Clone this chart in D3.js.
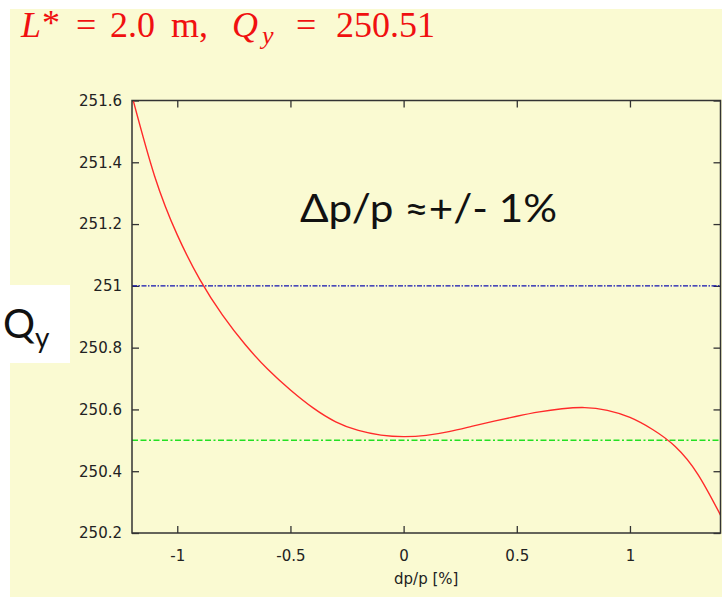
<!DOCTYPE html>
<html>
<head>
<meta charset="utf-8">
<script src="https://cdn.jsdelivr.net/npm/d3@7"></script>
<style>
  body { margin: 0; background: #fff; }
  svg { display: block; }
</style>
</head>
<body>
<div id="chart"></div>
<script>
// values
var dpp = [-1.2, -1.1, -1.0, -0.9, -0.8, -0.7, -0.6, -0.5, -0.4, -0.3, -0.2, -0.1, 0,
  0.1, 0.2, 0.3, 0.4, 0.5, 0.6, 0.7, 0.8, 0.9, 1.0, 1.1, 1.2, 1.3, 1.4];
var qy = [251.615, 251.355, 251.165, 251.02, 250.905, 250.81, 250.73, 250.663, 250.605, 250.56, 250.532, 250.517, 250.512,
  250.516, 250.528, 250.545, 250.562, 250.578, 250.592, 250.602, 250.606, 250.597, 250.574, 250.535, 250.48, 250.39, 250.258];
var xTicks = [-1, -0.5, 0, 0.5, 1];
var yTicks = [250.2, 250.4, 250.6, 250.8, 251, 251.2, 251.4, 251.6];
var qyLimit = 251.0;
var qyNominal = 250.5;

var W = 722, H = 597;
var pLeft = 132, pRight = 720.5, pTop = 100.5, pBottom = 533;

var svg = d3.select("#chart").append("svg")
  .attr("width", W)
  .attr("height", H);

svg.append("rect")
  .attr("x", 10).attr("y", 9)
  .attr("width", W - 10).attr("height", H - 9)
  .attr("fill", "#fafad2");

var x = d3.scaleLinear().domain([-1.2, 1.4]).range([pLeft, pRight]);
var y = d3.scaleLinear().domain([250.2, 251.6]).range([pBottom, pTop]);

var fmt = function (d) { return String(+d.toFixed(1)); };

// axes, ticks inward on all four sides
var axisStyle = function (g) {
  g.select(".domain").remove();
  g.selectAll(".tick line").attr("stroke", "#333").attr("stroke-width", 1.3);
  g.selectAll(".tick text")
    .attr("fill", "#222")
    .style("font-family", "DejaVu Sans")
    .style("font-size", "15px");
};

svg.append("g")
  .attr("transform", "translate(0," + pBottom + ")")
  .call(d3.axisBottom(x).tickValues(xTicks).tickFormat(fmt).tickSizeInner(-7).tickSizeOuter(0).tickPadding(17))
  .call(axisStyle);

svg.append("g")
  .attr("transform", "translate(0," + pTop + ")")
  .call(d3.axisTop(x).tickValues(xTicks).tickFormat("").tickSizeInner(-7).tickSizeOuter(0))
  .call(axisStyle);

svg.append("g")
  .attr("transform", "translate(" + pLeft + ",0)")
  .call(d3.axisLeft(y).tickValues(yTicks).tickFormat(fmt).tickSizeInner(-7).tickSizeOuter(0).tickPadding(10))
  .call(axisStyle);

svg.append("g")
  .attr("transform", "translate(" + pRight + ",0)")
  .call(d3.axisRight(y).tickValues(yTicks).tickFormat("").tickSizeInner(-7).tickSizeOuter(0))
  .call(axisStyle);

svg.append("clipPath").attr("id", "plotClip")
  .append("rect")
  .attr("x", pLeft).attr("y", pTop)
  .attr("width", pRight - pLeft).attr("height", pBottom - pTop);

var plot = svg.append("g").attr("clip-path", "url(#plotClip)");

plot.append("line")
  .attr("x1", pLeft).attr("x2", pRight)
  .attr("y1", y(qyLimit)).attr("y2", y(qyLimit))
  .attr("stroke", "#1010b0")
  .attr("stroke-width", 1.2)
  .attr("stroke-dasharray", "5,1.5,1.5,1.5");

plot.append("line")
  .attr("x1", pLeft).attr("x2", pRight)
  .attr("y1", y(qyNominal)).attr("y2", y(qyNominal))
  .attr("stroke", "#22e022")
  .attr("stroke-width", 1.4)
  .attr("stroke-dasharray", "6,2.5,6,2.5,2,2.5");

var line = d3.line()
  .x(function (d, i) { return x(dpp[i]); })
  .y(function (d) { return y(d); })
  .curve(d3.curveNatural);

plot.append("path")
  .datum(qy)
  .attr("fill", "none")
  .attr("stroke", "#ff2a2a")
  .attr("stroke-width", 1.4)
  .attr("d", line);

// frame
svg.append("rect")
  .attr("x", pLeft).attr("y", pTop)
  .attr("width", pRight - pLeft).attr("height", pBottom - pTop)
  .attr("fill", "none")
  .attr("stroke", "#333")
  .attr("stroke-width", 1.5);

svg.append("text")
  .attr("x", (pLeft + pRight) / 2)
  .attr("y", 584)
  .attr("text-anchor", "middle")
  .style("font-family", "DejaVu Sans")
  .style("font-size", "15px")
  .attr("fill", "#222")
  .text("dp/p [%]");

// title, pieces placed like the TeX output
var title = svg.append("text")
  .attr("y", 37)
  .attr("fill", "#f01010")
  .style("font-family", "Liberation Serif")
  .style("font-size", "36px");
title.append("tspan").attr("x", 21).style("font-style", "italic").text("L");
title.append("tspan").attr("x", 42).attr("dy", -2).text("*");
title.append("tspan").attr("x", 76).attr("dy", 2).text("=");
title.append("tspan").attr("x", 110).text("2.0");
title.append("tspan").attr("x", 171).text("m,");
title.append("tspan").attr("x", 232).style("font-style", "italic").text("Q");
title.append("tspan").attr("x", 262).attr("dy", 7).style("font-style", "italic").style("font-size", "26px").text("y");
title.append("tspan").attr("x", 296).attr("dy", -7).text("=");
title.append("tspan").attr("x", 336).text("250.51");

// annotation
svg.append("text")
  .attr("x", 300)
  .attr("y", 222)
  .attr("textLength", 257)
  .attr("lengthAdjust", "spacingAndGlyphs")
  .style("font-family", "Lato")
  .style("font-size", "38px")
  .attr("fill", "#111")
  .text("Δp/p ≈+/- 1%");

// Qy label in white box
svg.append("rect")
  .attr("x", 0).attr("y", 285)
  .attr("width", 70).attr("height", 78)
  .attr("fill", "#fff");

var qlab = svg.append("text")
  .attr("x", 3)
  .attr("y", 338)
  .style("font-family", "Lato")
  .style("font-size", "40px")
  .attr("fill", "#111");
qlab.append("tspan").text("Q");
qlab.append("tspan").attr("dy", 10).style("font-size", "28px").text("y");
</script>
</body>
</html>
